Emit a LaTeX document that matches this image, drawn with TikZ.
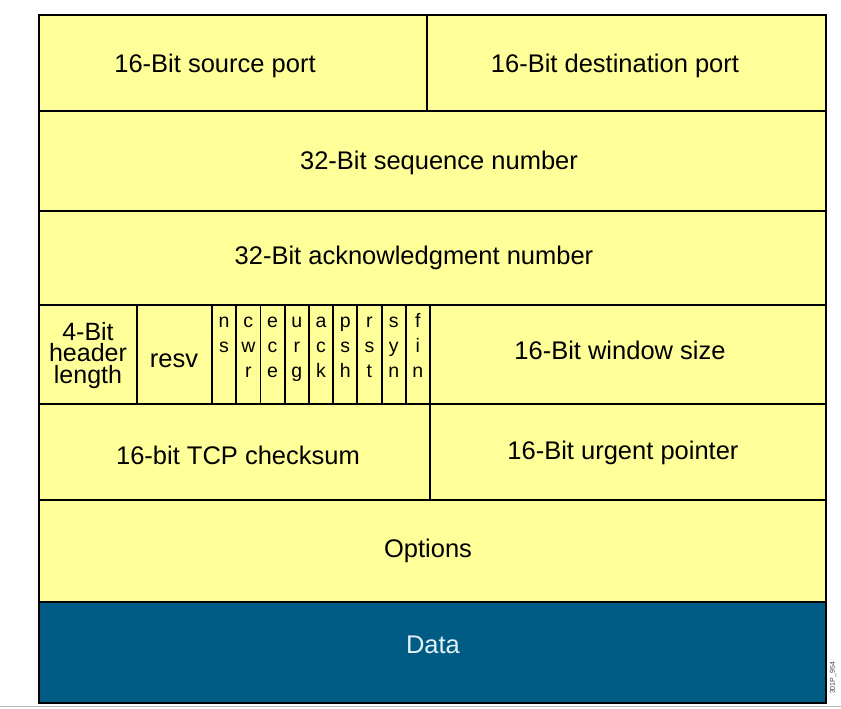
\documentclass[tikz,border=0pt]{standalone}
\usepackage{fontspec}
\setmainfont{Liberation Sans}
\definecolor{cellyellow}{HTML}{FFFF99}
\definecolor{datablue}{HTML}{005B85}
\definecolor{datatext}{HTML}{E2F1F8}
\begin{document}
\begin{tikzpicture}[x=1pt,y=-1pt,
  grid/.style={line width=1.8pt, black},
  lbl/.style={font=\fontsize{25.5}{25.5}\selectfont, anchor=base, inner sep=0pt},
  hdr/.style={font=\fontsize{25}{21.5}\selectfont, anchor=base, inner sep=0pt, align=center},
  flg/.style={font=\fontsize{19.5}{25.4}\selectfont, anchor=base, inner sep=0pt, align=center}]
\useasboundingbox (0,0) rectangle (841,709);
\fill[white] (0,0) rectangle (841,709);
% fills
\fill[cellyellow] (39,15) rectangle (826,602);
\fill[datablue] (39,602) rectangle (826,703);
% grid
\draw[grid] (39,15) rectangle (826,703);
\foreach \y in {111,211,305,404,500,602} \draw[grid] (39,\y) -- (826,\y);
\draw[grid] (427,15) -- (427,111);
\draw[grid] (430,404) -- (430,500);
\foreach \x in {137,212,236.2,260.4,284.7,308.9,333.1,357.3,381.6,405.8,430}
  \draw[grid] (\x,305) -- (\x,404);
% bottom gray rule
\draw[gray!55, line width=1.5pt] (0,706.5) -- (841,706.5);
% labels
\node[lbl] (src) at (215,72.5) {16-Bit source port};
\node[lbl] (dst) at (615,72.5) {16-Bit destination port};
\node[lbl] (seq) at (439,169.5) {32-Bit sequence number};
\node[lbl] (ack) at (414,264.5) {32-Bit acknowledgment number};
\node[hdr] (hl) at (88,383) {4-Bit\\header\\length};
\node[lbl] (resv) at (174,367) {resv};
\node[lbl] (win) at (620,359.5) {16-Bit window size};
\node[lbl] (chk) at (238,464.5) {16-bit TCP checksum};
\node[lbl] (urg) at (623,459.5) {16-Bit urgent pointer};
\node[lbl] (opt) at (428,557.5) {Options};
\node[lbl, text=datatext] (data) at (433,653.5) {Data};
% flags (anchored at the baseline of their last line)
\node[flg] (f1) at (224.1,352.4) {n\\s};
\foreach \x/\t [count=\i from 2] in {248.3/{c\\w\\r}, 272.6/{e\\c\\e}, 296.8/{u\\r\\g}, 321/{a\\c\\k}, 345.2/{p\\s\\h}, 369.4/{r\\s\\t}, 393.7/{s\\y\\n}, 417.9/{f\\i\\n}}{
  \node[flg] (f\i) at (\x,377.8) {\t};
}
% figure id
\node[font=\fontsize{7}{7}\selectfont, rotate=90, text=black!75, inner sep=0pt] (figid) at (833,678) {301P\_954};
\end{tikzpicture}
\end{document}
